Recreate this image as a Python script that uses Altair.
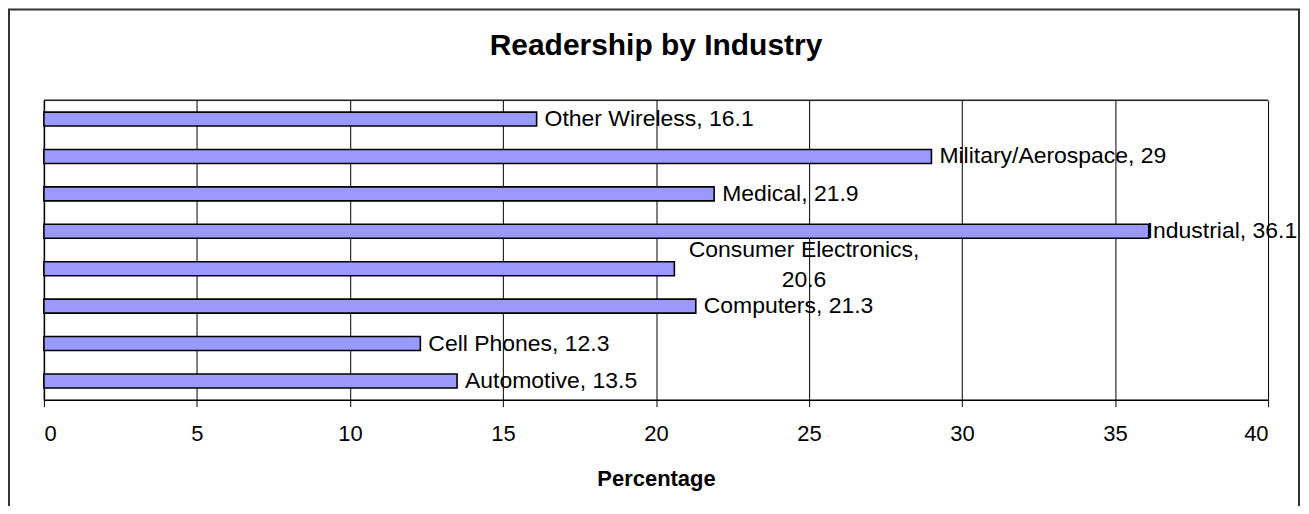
import altair as alt
import pandas as pd

industries = ["Other Wireless", "Military/Aerospace", "Medical", "Industrial",
              "Consumer Electronics", "Computers", "Cell Phones", "Automotive"]
percentages = [16.1, 29, 21.9, 36.1, 20.6, 21.3, 12.3, 13.5]
labels = ["Other Wireless, 16.1", "Military/Aerospace, 29", "Medical, 21.9",
          "Industrial, 36.1", "Consumer Electronics,\n20.6", "Computers, 21.3",
          "Cell Phones, 12.3", "Automotive, 13.5"]
x_ticks = [0, 5, 10, 15, 20, 25, 30, 35, 40]

df = pd.DataFrame({"industry": industries, "pct": percentages, "label": labels})

FONT = "Liberation Sans"

x_enc = alt.X("pct:Q",
              scale=alt.Scale(domain=[0, 40], nice=False),
              axis=alt.Axis(values=x_ticks, title="Percentage", grid=True,
                            gridColor="#000000", gridWidth=1, gridOpacity=1,
                            domainColor="#000000", domainWidth=1.5,
                            tickColor="#000000", tickSize=7, tickWidth=1,
                            labelFontSize=22, labelFont=FONT, labelColor="#000000",
                            labelPadding=17,
                            titleFontSize=22, titleFont=FONT, titleFontWeight="bold",
                            titleColor="#000000", titlePadding=24))
y_enc = alt.Y("industry:N", sort=industries,
              scale=alt.Scale(paddingInner=0, paddingOuter=0),
              axis=alt.Axis(title=None, labels=False, ticks=False, grid=False,
                            domainColor="#000000", domainWidth=1.5))

base = alt.Chart(df)

bars = base.mark_bar(size=14, color="#9999FF", stroke="#000000", strokeWidth=1.6).encode(
    x=x_enc, y=y_enc)

normal = base.transform_filter(
    "datum.industry != 'Industrial' && datum.industry != 'Consumer Electronics'"
).mark_text(align="left", baseline="middle", dx=8, fontSize=23, font=FONT,
            color="#000000").encode(x="pct:Q", y=alt.Y("industry:N", sort=industries),
                                    text="label:N")

industrial = base.transform_filter("datum.industry == 'Industrial'").mark_text(
    align="left", baseline="middle", dx=-2, fontSize=23, font=FONT, color="#000000"
).encode(x="pct:Q", y=alt.Y("industry:N", sort=industries), text="label:N")

consumer = base.transform_filter("datum.industry == 'Consumer Electronics'").mark_text(
    align="center", baseline="middle", dx=130, dy=-19, fontSize=23, font=FONT,
    color="#000000", lineBreak="\n", lineHeight=30
).encode(x="pct:Q", y=alt.Y("industry:N", sort=industries), text="label:N")

frame_data = alt.Data(values=[{}])

top_edge = alt.Chart(frame_data).mark_rule(
    color="#222222", strokeWidth=1.5, clip=False
).encode(x=alt.value(0), x2=alt.value(1227), y=alt.value(0))

border = alt.Chart(frame_data).mark_rect(
    fill=None, stroke="#333333", strokeWidth=2, clip=False
).encode(x=alt.value(-35), x2=alt.value(1258), y=alt.value(-91), y2=alt.value(430))

chart = alt.layer(bars, normal, industrial, consumer, top_edge, border).properties(
    width=1227, height=300,
    autosize=alt.AutoSizeParams(type="none"),
    padding={"left": 36, "top": 92, "right": 33, "bottom": 106},
    title=alt.TitleParams("Readership by Industry", fontSize=30, font=FONT,
                          fontWeight="bold", color="#000000", anchor="middle",
                          frame="group", offset=-53),
).configure_view(stroke="#222222", strokeWidth=1.5).configure(background="#ffffff")

chart.save("out.html", embed_options={"renderer": "svg", "actions": False})
